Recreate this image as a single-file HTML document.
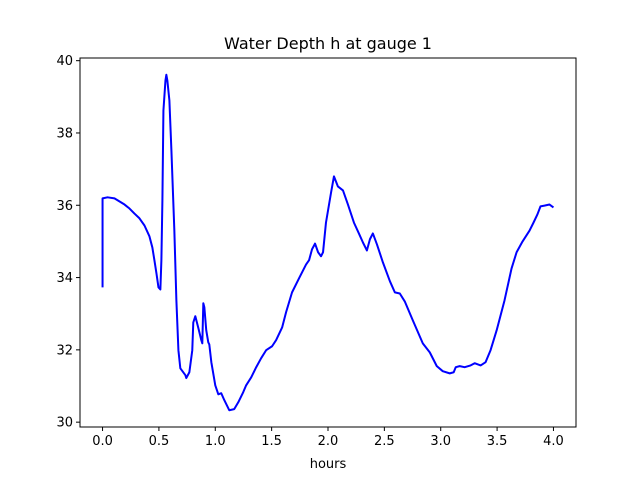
<!DOCTYPE html>
<html><head><meta charset="utf-8"><style>
html,body{margin:0;padding:0;background:#fff;}
svg{display:block;font-family:"DejaVu Sans","Liberation Sans",sans-serif;}
</style></head><body>
<svg id="chart" width="640" height="480">
<rect x="0" y="0" width="640" height="480" fill="#fff"/>
<text x="328" y="49" text-anchor="middle" font-size="16" fill="#000">Water Depth h at gauge 1</text>
<g id="plot"></g>
<text x="328" y="468" text-anchor="middle" font-size="13" fill="#000">hours</text>
</svg>
<script>
const hours=[0,0,0.044,0.106,0.195,0.239,0.283,0.327,0.372,0.416,0.442,0.460,0.478,0.496,0.513,0.522,0.531,0.540,0.558,0.566,0.575,0.593,0.611,0.637,0.655,0.673,0.690,0.735,0.743,0.770,0.796,0.805,0.823,0.850,0.876,0.885,0.894,0.903,0.920,0.938,0.947,0.965,1.000,1.027,1.053,1.080,1.124,1.168,1.204,1.248,1.274,1.319,1.363,1.407,1.451,1.504,1.540,1.593,1.628,1.681,1.743,1.805,1.832,1.858,1.885,1.912,1.938,1.956,1.982,2.027,2.053,2.088,2.133,2.177,2.230,2.274,2.310,2.345,2.372,2.398,2.434,2.487,2.549,2.593,2.637,2.681,2.752,2.841,2.903,2.965,3.018,3.080,3.115,3.133,3.168,3.212,3.265,3.301,3.354,3.398,3.442,3.496,3.566,3.628,3.673,3.726,3.788,3.823,3.858,3.885,3.920,3.965,4.000];
const depth=[33.73,36.19,36.22,36.19,36.02,35.91,35.77,35.64,35.44,35.14,34.83,34.48,34.12,33.73,33.67,34.48,36.13,38.62,39.45,39.61,39.45,38.90,37.51,35.30,33.37,31.99,31.49,31.30,31.22,31.38,31.99,32.76,32.93,32.60,32.27,32.18,33.29,33.18,32.54,32.21,32.15,31.66,31.02,30.77,30.80,30.61,30.33,30.36,30.55,30.83,31.02,31.24,31.52,31.77,31.99,32.10,32.27,32.62,33.04,33.59,33.98,34.36,34.48,34.78,34.94,34.70,34.59,34.70,35.52,36.35,36.80,36.52,36.41,36.02,35.52,35.22,34.97,34.75,35.06,35.22,34.92,34.42,33.90,33.59,33.56,33.34,32.82,32.18,31.93,31.55,31.41,31.35,31.38,31.52,31.55,31.52,31.57,31.63,31.57,31.66,31.99,32.54,33.37,34.25,34.70,35.00,35.30,35.52,35.75,35.97,35.99,36.02,35.94];
const xTicks=[0,0.5,1,1.5,2,2.5,3,3.5,4];
const xTickLabels=["0.0","0.5","1.0","1.5","2.0","2.5","3.0","3.5","4.0"];
const yTicks=[30,32,34,36,38,40];
const yTickLabels=["30","32","34","36","38","40"];

const L=80,R=576,T=58,B=427;
const xmin0=Math.min(...hours),xmax0=Math.max(...hours);
const ymin0=Math.min(...depth),ymax0=Math.max(...depth);
const xm=(xmax0-xmin0)*0.05,ym=(ymax0-ymin0)*0.05;
const xmin=xmin0-xm,xmax=xmax0+xm,ymin=ymin0-ym,ymax=ymax0+ym;
const sx=v=>L+(v-xmin)/(xmax-xmin)*(R-L);
const sy=v=>B-(v-ymin)/(ymax-ymin)*(B-T);
const NS="http://www.w3.org/2000/svg";
const g=document.getElementById('plot');
function mk(t,a){const e=document.createElementNS(NS,t);for(const k in a)e.setAttribute(k,a[k]);g.appendChild(e);return e;}

let d=hours.map((h,i)=>(i?'L':'M')+sx(h).toFixed(2)+','+sy(depth[i]).toFixed(2)).join(' ');
const line=mk('path',{d:d,fill:'none',stroke:'#0000ff','stroke-width':2,'stroke-linejoin':'round'});



xTicks.forEach((v,i)=>{
  const x=sx(v);
  const t=mk('line',{x1:x,x2:x,y1:B,y2:B+4,stroke:'#000','stroke-width':1});
  
  
  const l=mk('text',{x:x,y:B+18,'text-anchor':'middle','font-size':13,fill:'#000'});
  l.textContent=xTickLabels[i];
  
  
});
yTicks.forEach((v,i)=>{
  const y=sy(v);
  const t=mk('line',{x1:L-4,x2:L,y1:y,y2:y,stroke:'#000','stroke-width':1});
  
  
  const l=mk('text',{x:L-7,y:y+4.5,'text-anchor':'end','font-size':13,fill:'#000'});
  l.textContent=yTickLabels[i];
  
  
});
const frame=mk('rect',{x:L,y:T,width:R-L,height:B-T,fill:'none',stroke:'#000','stroke-width':1});


</script>
</body></html>
